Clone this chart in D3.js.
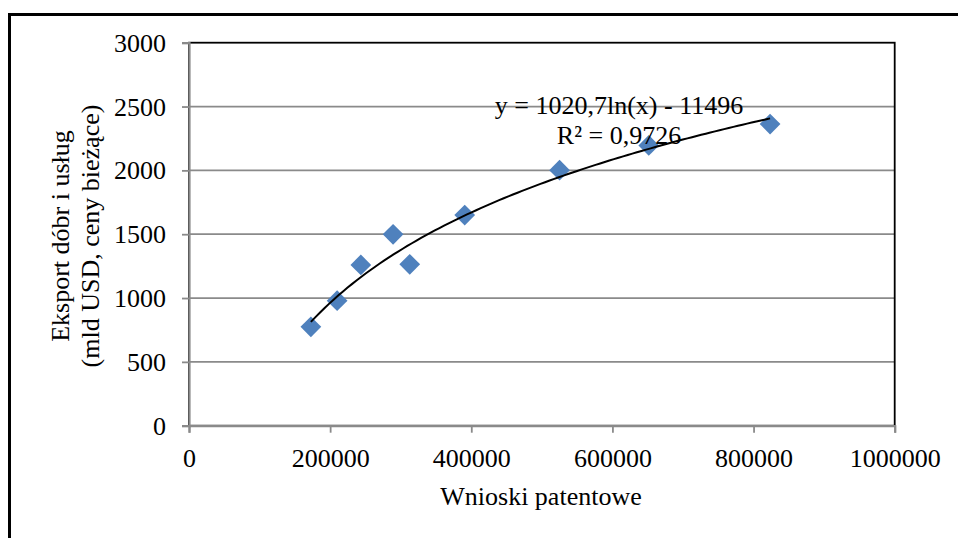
<!DOCTYPE html>
<html>
<head>
<meta charset="utf-8">
<script src="https://cdn.jsdelivr.net/npm/d3@7"></script>
<style>
  html, body { margin: 0; padding: 0; background: #fff; }
  svg { display: block; }
  text { font-family: "Liberation Serif", "Times New Roman", serif; fill: #000; }
</style>
</head>
<body>
<svg id="chart" width="958" height="538"></svg>
<script>
// Patent applications vs. exports of goods and services
const patents = [172700, 209900, 243500, 289200, 312800, 390700, 525100, 651500, 823400];
const exports = [775, 979, 1259, 1499, 1264, 1650, 2001, 2195, 2363];

const xTicks = [0, 200000, 400000, 600000, 800000, 1000000];
const yTicks = [0, 500, 1000, 1500, 2000, 2500, 3000];

// Logarithmic trend: y = a*ln(x) + b
const trendA = 1020.7;
const trendB = -11496;
const trendR2 = "0,9726";

const svg = d3.select("#chart");
const W = 958, H = 538;
const plot = { left: 189, right: 894.7, top: 42.7, bottom: 425.7 };
const fontSize = 26;
const gridColor = "#8a8a8a";

// Outer chart frame (runs past the right and bottom edges)
svg.append("rect")
  .attr("x", 9.5).attr("y", 14.5)
  .attr("width", W + 20).attr("height", H + 20)
  .attr("fill", "#fff").attr("stroke", "#000").attr("stroke-width", 3);

const x = d3.scaleLinear().domain([0, 1000000]).range([plot.left, plot.right]);
const y = d3.scaleLinear().domain([0, 3000]).range([plot.bottom, plot.top]);

// Horizontal gridlines
svg.append("g")
  .selectAll("line")
  .data(yTicks.filter(t => t > 0 && t < 3000))
  .join("line")
  .attr("x1", plot.left).attr("x2", plot.right)
  .attr("y1", d => y(d)).attr("y2", d => y(d))
  .attr("stroke", gridColor).attr("stroke-width", 1.8);

// Plot-area border (top and right remain visible in black)
svg.append("rect")
  .attr("x", plot.left).attr("y", plot.top)
  .attr("width", plot.right - plot.left).attr("height", plot.bottom - plot.top)
  .attr("fill", "none").attr("stroke", "#000").attr("stroke-width", 1.8);

// Y axis
const yAxis = svg.append("g")
  .attr("transform", `translate(${plot.left},0)`)
  .call(d3.axisLeft(y).tickValues(yTicks).tickSize(7).tickPadding(16).tickFormat(d3.format("d")));
yAxis.select(".domain").attr("stroke", gridColor).attr("stroke-width", 2.2);
yAxis.selectAll(".tick line").attr("stroke", gridColor).attr("stroke-width", 1.8);
yAxis.selectAll(".tick text")
  .attr("font-family", "Liberation Serif").attr("font-size", fontSize)
  .attr("fill", "#000").attr("dy", "0.33em");

// X axis
const xAxis = svg.append("g")
  .attr("transform", `translate(0,${plot.bottom})`)
  .call(d3.axisBottom(x).tickValues(xTicks).tickSize(7).tickPadding(16).tickFormat(d3.format("d")));
xAxis.select(".domain").attr("stroke", gridColor).attr("stroke-width", 2.2);
xAxis.selectAll(".tick line").attr("stroke", gridColor).attr("stroke-width", 1.8);
xAxis.selectAll(".tick text")
  .attr("font-family", "Liberation Serif").attr("font-size", fontSize)
  .attr("fill", "#000").attr("dy", "0.72em");

// Data markers (diamonds)
const diamond = d3.symbol().type(d3.symbolSquare).size(215);
svg.append("g")
  .selectAll("path")
  .data(patents.map((p, i) => [p, exports[i]]))
  .join("path")
  .attr("d", diamond)
  .attr("transform", d => `translate(${x(d[0])},${y(d[1])}) rotate(45)`)
  .attr("fill", "#4f81bd");

// Trend line across the observed range
const xMin = d3.min(patents), xMax = d3.max(patents);
const trendPts = d3.range(0, 101).map(i => {
  const xv = xMin + (xMax - xMin) * i / 100;
  return [xv, trendA * Math.log(xv) + trendB];
});
svg.append("path")
  .datum(trendPts)
  .attr("d", d3.line().x(d => x(d[0])).y(d => y(d[1])))
  .attr("fill", "none").attr("stroke", "#000").attr("stroke-width", 2);

// Trend equation label
const eqX = 619;
svg.append("text")
  .attr("x", eqX).attr("y", 113.5)
  .attr("text-anchor", "middle").attr("font-size", fontSize)
  .text(`y = ${String(trendA).replace(".", ",")}ln(x) - ${Math.abs(trendB)}`);
svg.append("text")
  .attr("x", eqX).attr("y", 143.5)
  .attr("text-anchor", "middle").attr("font-size", fontSize)
  .text(`R² = ${trendR2}`);

// Axis titles
svg.append("text")
  .attr("x", 541).attr("y", 505)
  .attr("text-anchor", "middle").attr("font-size", fontSize)
  .text("Wnioski patentowe");

const yTitle = svg.append("text")
  .attr("transform", "translate(69,236) rotate(-90)")
  .attr("text-anchor", "middle").attr("font-size", fontSize);
yTitle.append("tspan").attr("x", 0).attr("y", 0).text("Eksport dóbr i usług");
yTitle.append("tspan").attr("x", 0).attr("y", 29.5).text("(mld USD, ceny bieżące)");
</script>
</body>
</html>
